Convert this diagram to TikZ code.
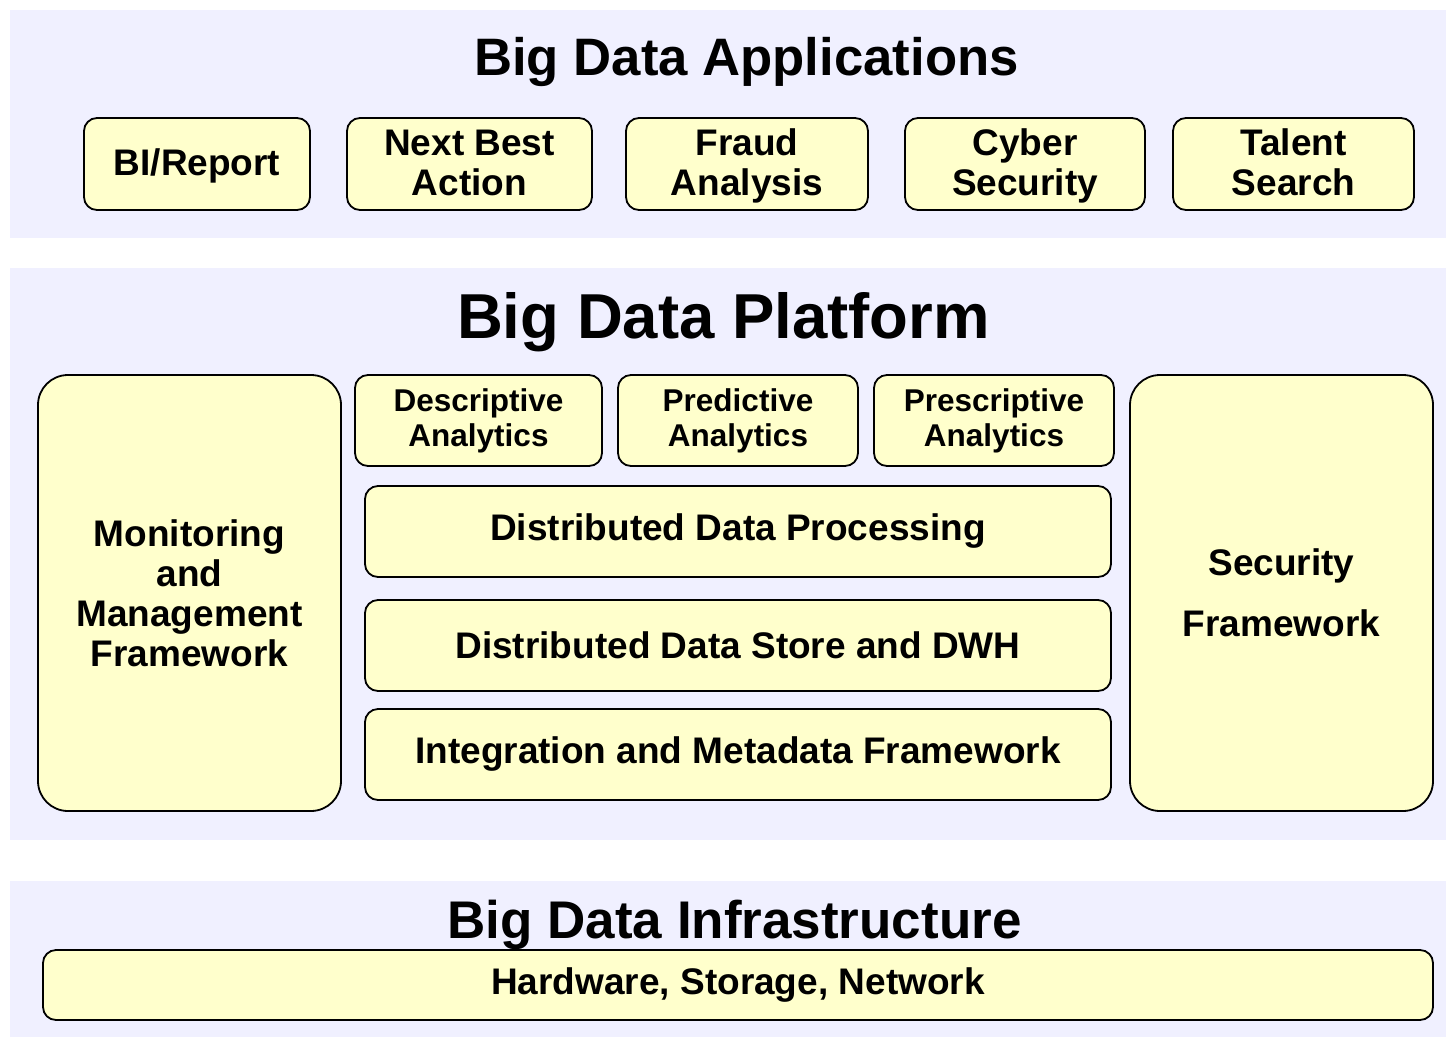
\documentclass[tikz,border=0pt]{standalone}
\usepackage{fontspec}
\setmainfont{Liberation Sans}
\usetikzlibrary{positioning}
\definecolor{panelbg}{HTML}{F0F0FF}
\definecolor{boxfill}{HTML}{FFFFCC}
\tikzset{panel/.style={fill=panelbg,draw=none},
  blk/.style={draw,line width=1.8pt,fill=boxfill,rounded corners=13pt,align=center,inner sep=0pt,
    font=\bfseries\fontsize{37}{40}\selectfont},
  app/.style={blk,minimum height=92pt,text depth=3pt},
  tall/.style={blk,rounded corners=30pt,minimum width=303pt,minimum height=436pt},
  ana/.style={blk,minimum height=91pt,font=\bfseries\fontsize{31.5}{35}\selectfont},
  layer/.style={blk,minimum width=746pt,minimum height=91pt},
  ttl/.style={anchor=base,inner sep=0pt,font=\bfseries\fontsize{#1}{#1}\selectfont}}

\begin{document}
\begin{tikzpicture}[x=1pt,y=-1pt]
\useasboundingbox (0,0) rectangle (1446,1037);
% three layers
\fill[panel] (10,10) rectangle (1446,238);
\fill[panel] (10,268) rectangle (1446,840);
\fill[panel] (10,881) rectangle (1446,1037);
\node[ttl=52.7] (apptitle) at (746.5,75) {Big Data Applications};
\node[ttl=63.5] (plattitle) at (723.5,338) {Big Data Platform};
\node[ttl=53] (infratitle) at (734.5,938) {Big Data Infrastructure};
% applications
\node[app,minimum width=226pt] (bi) at (197,164) {BI/Report};
\node[app,minimum width=245pt] (nba) at (469.5,164) {Next Best\\Action};
\node[app,minimum width=242pt] (fraud) at (747,164) {Fraud\\Analysis};
\node[app,minimum width=240pt] (cyber) at (1025,164) {Cyber\\Security};
\node[app,minimum width=241pt] (talent) at (1293.5,164) {Talent\\Search};
% platform
\node[tall] (monitor) at (189.5,593) {Monitoring\\and\\Management\\Framework};
\node[tall] (security) at (1281.5,593) {Security\\[21pt]Framework};
\node[ana,minimum width=247pt] (desc) at (478.5,420.5) {Descriptive\\Analytics};
\node[ana,minimum width=240pt] (pred) at (738,420.5) {Predictive\\Analytics};
\node[ana,minimum width=240pt] (presc) at (994,420.5) {Prescriptive\\Analytics};
\node[layer] (ddp) at (738,531.5) {Distributed Data Processing};
\node[layer] (dds) at (738,645.5) {Distributed Data Store and DWH};
\node[layer] (integ) at (738,754.5) {Integration and Metadata Framework};
% infrastructure
\node[blk,minimum width=1390pt,minimum height=70pt] (hw) at (738,985) {Hardware, Storage, Network};
\end{tikzpicture}
\end{document}
